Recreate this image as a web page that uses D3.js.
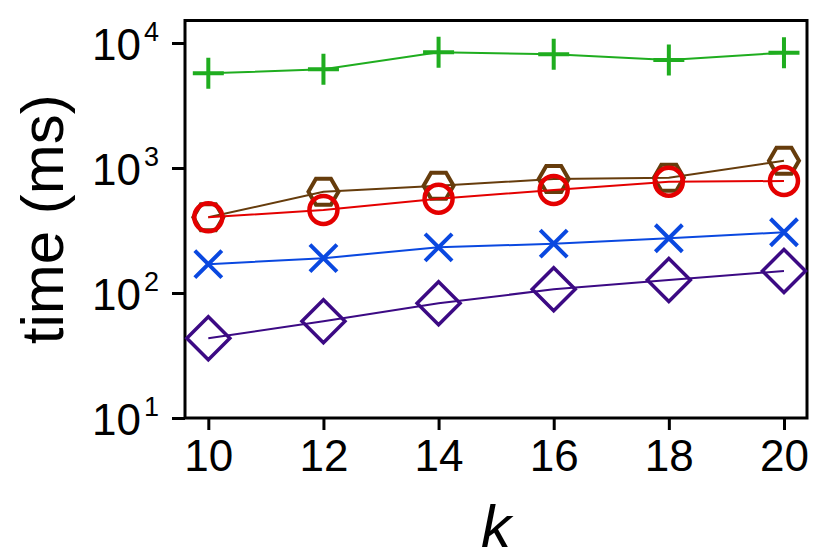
<!DOCTYPE html>
<html>
<head>
<meta charset="utf-8">
<script src="https://cdn.jsdelivr.net/npm/d3@7"></script>
<style>
  body { margin: 0; background: #fff; }
  text { font-family: "Liberation Sans", Arial, sans-serif; fill: #000; }
</style>
</head>
<body>
<svg id="chart" width="830" height="554"></svg>
<script>
// valores
const kValues = [10, 12, 14, 16, 18, 20];
const greenPlus = [5720, 6160, 8430, 8120, 7310, 8360];
const brownHex = [403, 646, 722, 817, 836, 1143];
const redCircle = [403, 461, 568, 667, 777, 787];
const blueX = [170, 190, 232, 248, 274, 306];
const purpleDiamond = [43.4, 59.4, 82.7, 107, 127, 150];
const xTicks = [10, 12, 14, 16, 18, 20];
const yTickExps = [1, 2, 3, 4];

const series = [
  { name: "plus", values: greenPlus, color: "#1fad1f" },
  { name: "hex", values: brownHex, color: "#663c0c" },
  { name: "circle", values: redCircle, color: "#e40000" },
  { name: "x", values: blueX, color: "#0a48e0" },
  { name: "diamond", values: purpleDiamond, color: "#3c0a84" }
];

const plotLeft = 185, plotRight = 807, plotTop = 20.5, plotBottom = 418;

const svg = d3.select("#chart");

const x = d3.scaleLinear().domain([9.595, 20.4]).range([plotLeft, plotRight]);
const y = d3.scaleLog().domain([10, Math.pow(10, 4.18)]).range([plotBottom, plotTop]);

// eixos
const xAxis = svg.append("g")
  .attr("transform", `translate(0,${plotBottom})`)
  .call(d3.axisBottom(x).tickValues(xTicks).tickSize(12).tickPadding(10).tickFormat(d3.format("d")));
xAxis.select(".domain").remove();
xAxis.selectAll("line").attr("stroke-width", 3);
xAxis.selectAll("text").attr("font-size", 44).attr("font-family", "Liberation Sans, Arial, sans-serif");

const yAxis = svg.append("g")
  .attr("transform", `translate(${plotLeft},0)`)
  .call(d3.axisLeft(y).tickValues(yTickExps.map(e => Math.pow(10, e))).tickSize(13).tickFormat(""));
yAxis.select(".domain").remove();
yAxis.selectAll("line").attr("stroke-width", 3);

// rótulos 10^n com expoente
yTickExps.forEach(e => {
  const t = svg.append("text")
    .attr("x", 159)
    .attr("y", y(Math.pow(10, e)) + 17)
    .attr("text-anchor", "end")
    .attr("font-size", 44);
  t.append("tspan").text("10");
  t.append("tspan").attr("dx", 3).attr("dy", -19).attr("font-size", 27).text(e);
});

// moldura
svg.append("rect")
  .attr("x", plotLeft).attr("y", plotTop)
  .attr("width", plotRight - plotLeft).attr("height", plotBottom - plotTop)
  .attr("fill", "none").attr("stroke", "#000").attr("stroke-width", 3);

// títulos
svg.append("text")
  .attr("transform", `translate(63,${(plotTop + plotBottom) / 2}) rotate(-90)`)
  .attr("text-anchor", "middle")
  .attr("font-size", 60)
  .text("time (ms)");

svg.append("text")
  .attr("x", (plotLeft + plotRight) / 2)
  .attr("y", 547)
  .attr("text-anchor", "middle")
  .attr("font-size", 60)
  .attr("font-style", "italic")
  .text("k");

const line = d3.line()
  .x((d, i) => x(kValues[i]))
  .y(d => y(d));

function markerPath(name) {
  if (name === "plus") return "M-15.5,0H15.5M0,-15.5V15.5";
  if (name === "x") return "M-13.5,-13.5L13.5,13.5M-13.5,13.5L13.5,-13.5";
  if (name === "diamond") return "M0,-21.5L21.5,0L0,21.5L-21.5,0Z";
  if (name === "hex") {
    const r = 15;
    const pts = d3.range(6).map(i => {
      const a = i * Math.PI / 3;
      return [r * Math.cos(a), r * Math.sin(a)];
    });
    return "M" + pts.map(p => p.join(",")).join("L") + "Z";
  }
  return null;
}

series.forEach(s => {
  const g = svg.append("g");
  g.append("path")
    .datum(s.values)
    .attr("d", line)
    .attr("fill", "none")
    .attr("stroke", s.color)
    .attr("stroke-width", 2);

  const pts = g.selectAll(".pt")
    .data(s.values)
    .enter().append("g")
    .attr("transform", (d, i) => `translate(${x(kValues[i])},${y(d)})`);

  if (s.name === "circle") {
    pts.append("circle").attr("r", 14)
      .attr("fill", "none").attr("stroke", s.color).attr("stroke-width", 4.5);
  } else {
    pts.append("path").attr("d", markerPath(s.name))
      .attr("fill", "none").attr("stroke", s.color)
      .attr("stroke-width", s.name === "diamond" ? 3.5 : 4);
  }
});
</script>
</body>
</html>
